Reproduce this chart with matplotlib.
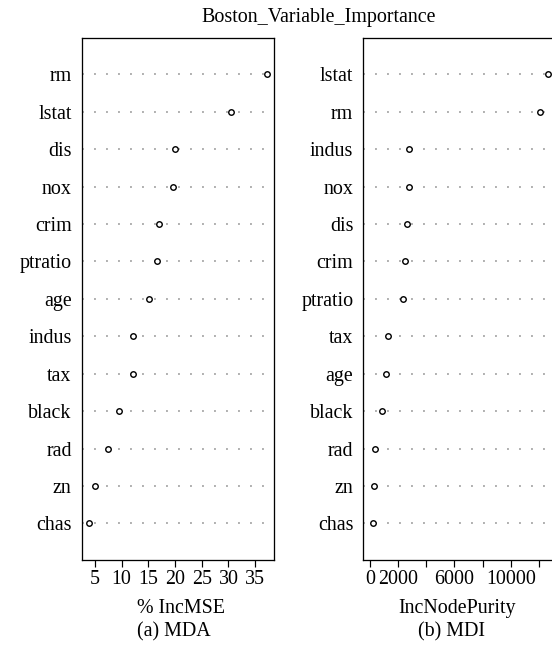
import matplotlib
matplotlib.use("Agg")
import matplotlib.pyplot as plt

plt.rcParams['font.family'] = ['Liberation Serif', 'DejaVu Serif']

# random forest importance, top to bottom as plotted
mda_vars = ['rm', 'lstat', 'dis', 'nox', 'crim', 'ptratio', 'age',
            'indus', 'tax', 'black', 'rad', 'zn', 'chas']
mda_vals = [37.2, 30.4, 20.0, 19.7, 17.0, 16.7, 15.1,
            12.2, 12.1, 9.5, 7.5, 5.0, 3.9]

mdi_vars = ['lstat', 'rm', 'indus', 'nox', 'dis', 'crim', 'ptratio',
            'tax', 'age', 'black', 'rad', 'zn', 'chas']
mdi_vals = [12620, 12090, 2790, 2760, 2630, 2490, 2370,
            1280, 1160, 850, 330, 280, 190]

mda_ticks = [5, 10, 15, 20, 25, 30, 35]
mda_ticklabels = ['5', '10', '15', '20', '25', '30', '35']
mdi_ticks = [0, 2000, 4000, 6000, 8000, 10000, 12000]
mdi_ticklabels = ['0', '2000', '', '6000', '', '10000', '']

FS = 20
W, H = 552, 656
fig = plt.figure(figsize=(W / 72, H / 72), dpi=72)

ax_w = 192.6 / W
ax_h = (560 - 37.7) / H
ax_b = 1 - 560 / H
ax1 = fig.add_axes([81.7 / W, ax_b, ax_w, ax_h])
ax2 = fig.add_axes([363.3 / W, ax_b, ax_w, ax_h])


def dotchart(ax, names, vals, xlim, ticks, ticklabels, xlabel, lab_x):
    n = len(names)
    ypos = list(range(n, 0, -1))
    for y in ypos:
        ax.axhline(y, color='#999999', lw=1.5, linestyle=(0, (1.3, 6.7)), zorder=1)
    ax.plot(vals, ypos, 'o', ms=5.5, mfc='white', mec='black', mew=1.4,
            linestyle='none', zorder=3)
    ax.set_xlim(*xlim)
    ax.set_ylim(0.02, n + 0.98)
    ax.set_yticks(ypos)
    ax.set_yticklabels(names)
    ax.tick_params(axis='y', length=0, pad=10, labelsize=FS)
    ax.set_xticks(ticks)
    ax.set_xticklabels(ticklabels)
    ax.tick_params(axis='x', length=6.7, width=1.2, pad=3.5, labelsize=FS)
    for s in ax.spines.values():
        s.set_linewidth(1.3)
    ax.set_xlabel(xlabel, fontsize=FS)
    ax.xaxis.set_label_coords(lab_x, (560 - 608.5) / (560 - 37.7))
    ax.xaxis.label.set_va('center')


dotchart(ax1, mda_vars, mda_vals, (2.51, 38.58), mda_ticks, mda_ticklabels,
         '% IncMSE', 0.5145)
dotchart(ax2, mdi_vars, mdi_vals, (-475, 13200), mdi_ticks, mdi_ticklabels,
         'IncNodePurity', 0.485)

fig.text(318.8 / W, 1 - 17.6 / H, 'Boston_Variable_Importance',
         ha='center', va='center', fontsize=FS)
fig.text(174 / W, 1 - 632 / H, '(a) MDA', ha='center', va='center', fontsize=FS)
fig.text(451 / W, 1 - 632 / H, '(b) MDI', ha='center', va='center', fontsize=FS)

fig.savefig('out.png', dpi=72)
